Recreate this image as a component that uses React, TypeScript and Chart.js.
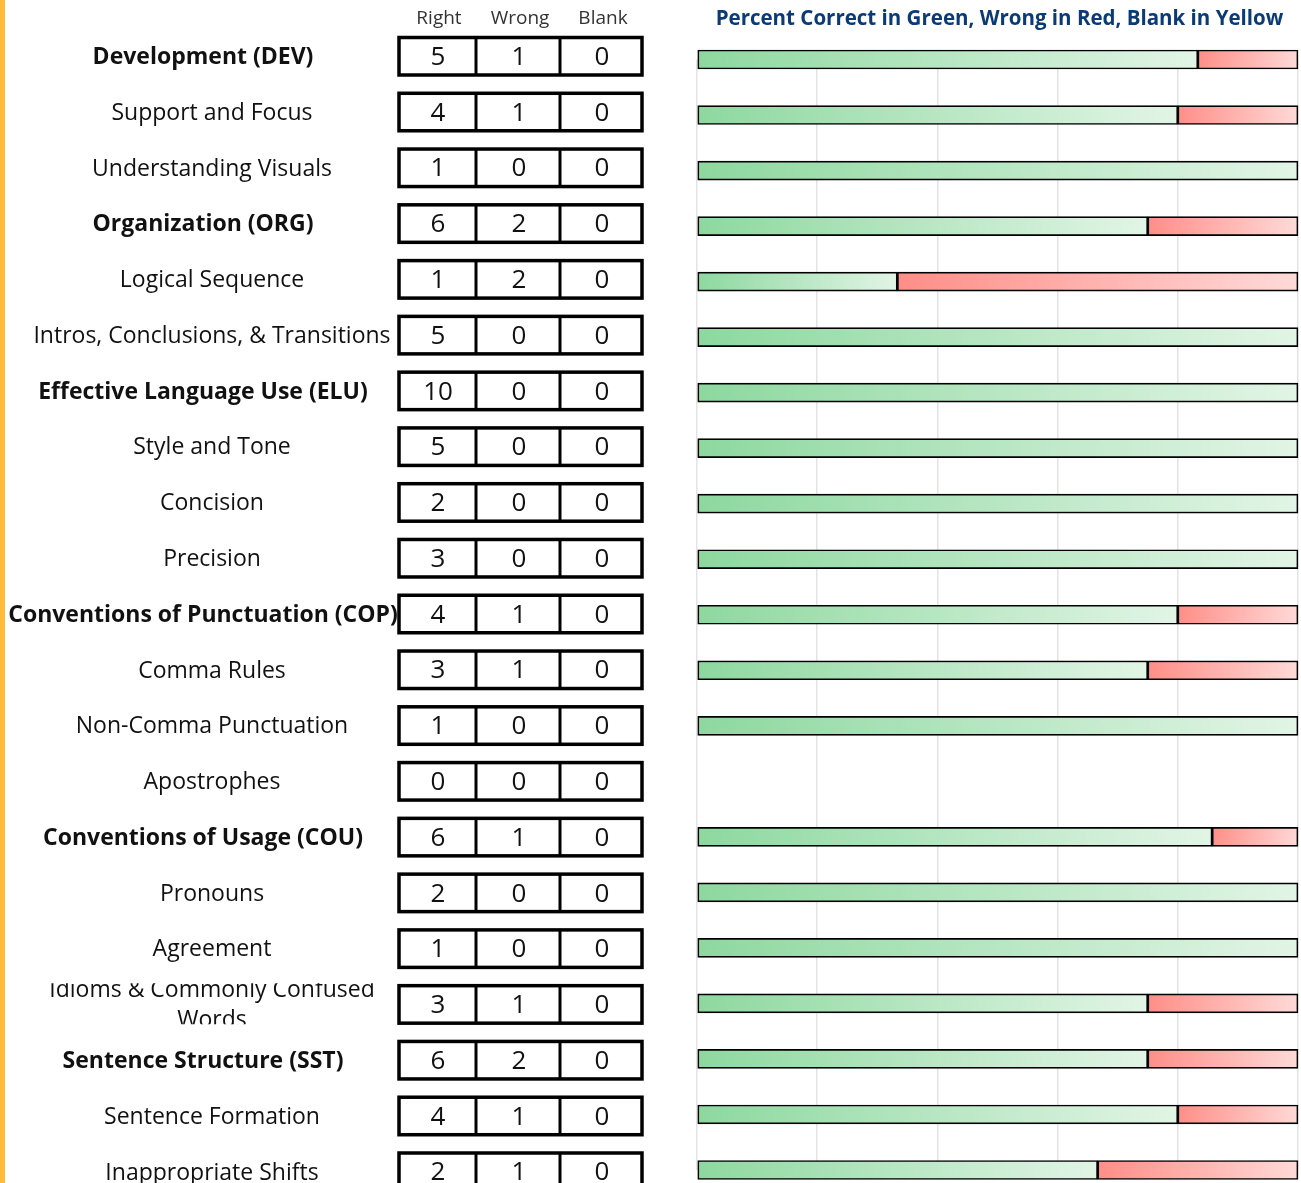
import React, { useEffect, useRef } from "react";
import { Chart, registerables } from "chart.js";

Chart.register(...registerables);

const categories = [
  "Development (DEV)",
  "Support and Focus",
  "Understanding Visuals",
  "Organization (ORG)",
  "Logical Sequence",
  "Intros, Conclusions, & Transitions",
  "Effective Language Use (ELU)",
  "Style and Tone",
  "Concision",
  "Precision",
  "Conventions of Punctuation (COP)",
  "Comma Rules",
  "Non-Comma Punctuation",
  "Apostrophes",
  "Conventions of Usage (COU)",
  "Pronouns",
  "Agreement",
  "Idioms & Commonly Confused Words",
  "Sentence Structure (SST)",
  "Sentence Formation",
  "Inappropriate Shifts",
];
const rightCounts = [5, 4, 1, 6, 1, 5, 10, 5, 2, 3, 4, 3, 1, 0, 6, 2, 1, 3, 6, 4, 2];
const wrongCounts = [1, 1, 0, 2, 2, 0, 0, 0, 0, 0, 1, 1, 0, 0, 1, 0, 0, 1, 2, 1, 1];
const blankCounts = [0, 0, 0, 0, 0, 0, 0, 0, 0, 0, 0, 0, 0, 0, 0, 0, 0, 0, 0, 0, 0];
const boldRows = [0, 3, 6, 10, 14, 18];
const headerLabels = ["Right", "Wrong", "Blank"];
const chartTitle = "Percent Correct in Green, Wrong in Red, Blank in Yellow";

const FONT = "'Open Sans', Lato, sans-serif";

function total(i: number) {
  return rightCounts[i] + wrongCounts[i] + blankCounts[i];
}
function pct(arr: number[], i: number) {
  const t = total(i);
  return t ? (arr[i] / t) * 100 : 0;
}
const rightPct = categories.map((_, i) => pct(rightCounts, i));
const wrongPct = categories.map((_, i) => pct(wrongCounts, i));
const blankPct = categories.map((_, i) => pct(blankCounts, i));
const stacks = [rightPct, wrongPct, blankPct];

const gradColors: [string, string][] = [
  ["#8dd89f", "#e2f5e6"],
  ["#ff8d87", "#ffdad8"],
  ["#ffe36a", "#fff6c8"],
];

function makeGrad(ctx: any) {
  const ds = ctx.datasetIndex ?? 0;
  const [c0, c1] = gradColors[ds];
  const i = ctx.dataIndex;
  const chart = ctx.chart;
  const xs = chart.scales?.x;
  const ys = chart.scales?.y;
  if (i === undefined || !xs || !ys) return c0;
  let start = 0;
  for (let d = 0; d < ds; d++) start += stacks[d][i];
  const end = start + stacks[ds][i];
  const x0 = xs.getPixelForValue(start);
  const x1 = xs.getPixelForValue(end);
  const y = ys.getPixelForValue(i);
  if (!isFinite(x0) || !isFinite(x1) || x1 <= x0) return c0;
  const g = chart.ctx.createLinearGradient(x0, y - 10, x1, y + 10);
  g.addColorStop(0, c0);
  g.addColorStop(1, c1);
  return g;
}

const tablePlugin = {
  id: "scoreTable",
  afterDraw(chart: any) {
    const c = chart.ctx as CanvasRenderingContext2D;
    const ys = chart.scales.y;
    const area = chart.chartArea;
    c.save();
    // left accent bar
    c.fillStyle = "#FFBC3A";
    c.fillRect(0, 0, 5, chart.height);

    // title
    c.fillStyle = "#0b3b74";
    c.font = `bold 20.5px ${FONT}`;
    c.textAlign = "center";
    c.textBaseline = "middle";
    c.fillText(chartTitle, (area.left + area.right) / 2 + 2, 19);

    // header
    const colCenters = [437, 518, 601];
    const colEdges = [399, 476, 560, 642];
    c.fillStyle = "#333";
    c.font = `19px ${FONT}`;
    headerLabels.forEach((h, k) => c.fillText(h, colCenters[k] + 2, 19));

    categories.forEach((lab, i) => {
      const cy = ys.getPixelForValue(i) - 3.5 + i * 0.25;
      const bold = boldRows.includes(i);
      // label
      c.fillStyle = "#111";
      c.font = `${bold ? "bold " : ""}23px ${FONT}`;
      const lx = bold ? 203 : 212;
      const lineW = 372;
      if (!bold && c.measureText(lab).width > 392) {
        const words = lab.split(" ");
        const lines: string[] = [];
        let cur = "";
        words.forEach((w) => {
          const t = cur ? cur + " " + w : w;
          if (c.measureText(t).width > lineW && cur) {
            lines.push(cur);
            cur = w;
          } else cur = t;
        });
        if (cur) lines.push(cur);
        c.save();
        c.beginPath();
        c.rect(5, cy - 21, 390, 41);
        c.clip();
        const lh = 30;
        lines.forEach((ln, k) => {
          c.fillText(ln, lx, cy - ((lines.length - 1) * lh) / 2 + k * lh + 1);
        });
        c.restore();
      } else {
        c.fillText(lab, lx, cy + 1.5);
      }
      // box
      c.strokeStyle = "#000";
      c.lineWidth = 3.5;
      c.strokeRect(colEdges[0], cy - 18.5, colEdges[3] - colEdges[0], 37.5);
      c.lineWidth = 3;
      [colEdges[1], colEdges[2]].forEach((x) => {
        c.beginPath();
        c.moveTo(x, cy - 18.5);
        c.lineTo(x, cy + 19);
        c.stroke();
      });
      // numbers
      c.fillStyle = "#111";
      c.font = `26px ${FONT}`;
      [rightCounts[i], wrongCounts[i], blankCounts[i]].forEach((v, k) => {
        c.fillText(String(v), colCenters[k] + 1, cy + 1.5);
      });
    });
    c.restore();
  },
};

export default function App() {
  const ref = useRef<HTMLCanvasElement | null>(null);
  useEffect(() => {
    if (!ref.current) return;
    const chart = new Chart(ref.current, {
      type: "bar",
      data: {
        labels: categories,
        datasets: [
          { label: "Right", data: rightPct },
          { label: "Wrong", data: wrongPct },
          { label: "Blank", data: blankPct },
        ].map((d) => ({
          ...d,
          backgroundColor: makeGrad,
          borderColor: "#000",
          borderWidth: 1.7,
          borderSkipped: false,
          barThickness: 19,
          clip: false as any,
        })),
      },
      options: {
        animation: false,
        responsive: false,
        devicePixelRatio: 1,
        indexAxis: "y",
        layout: { padding: { left: 697, right: 3, top: 59.5, bottom: 13 } },
        plugins: {
          legend: { display: false },
          tooltip: { enabled: false },
          title: { display: false },
        },
        scales: {
          x: {
            stacked: true,
            min: 0,
            max: 100,
            ticks: { display: false, stepSize: 20 },
            grid: { color: "#e3e3e3", lineWidth: 1.5, drawTicks: false },
            border: { display: false },
          },
          y: {
            stacked: true,
            display: false,
            offset: false,
            grid: { display: false },
          },
        },
      },
      plugins: [tablePlugin],
    });
    return () => chart.destroy();
  }, []);
  return (
    <div style={{ position: "absolute", left: 0, top: 0, width: 1301, height: 1183, background: "#fff" }}>
      <canvas ref={ref} width={1301} height={1183} style={{ display: "block" }} />
    </div>
  );
}
